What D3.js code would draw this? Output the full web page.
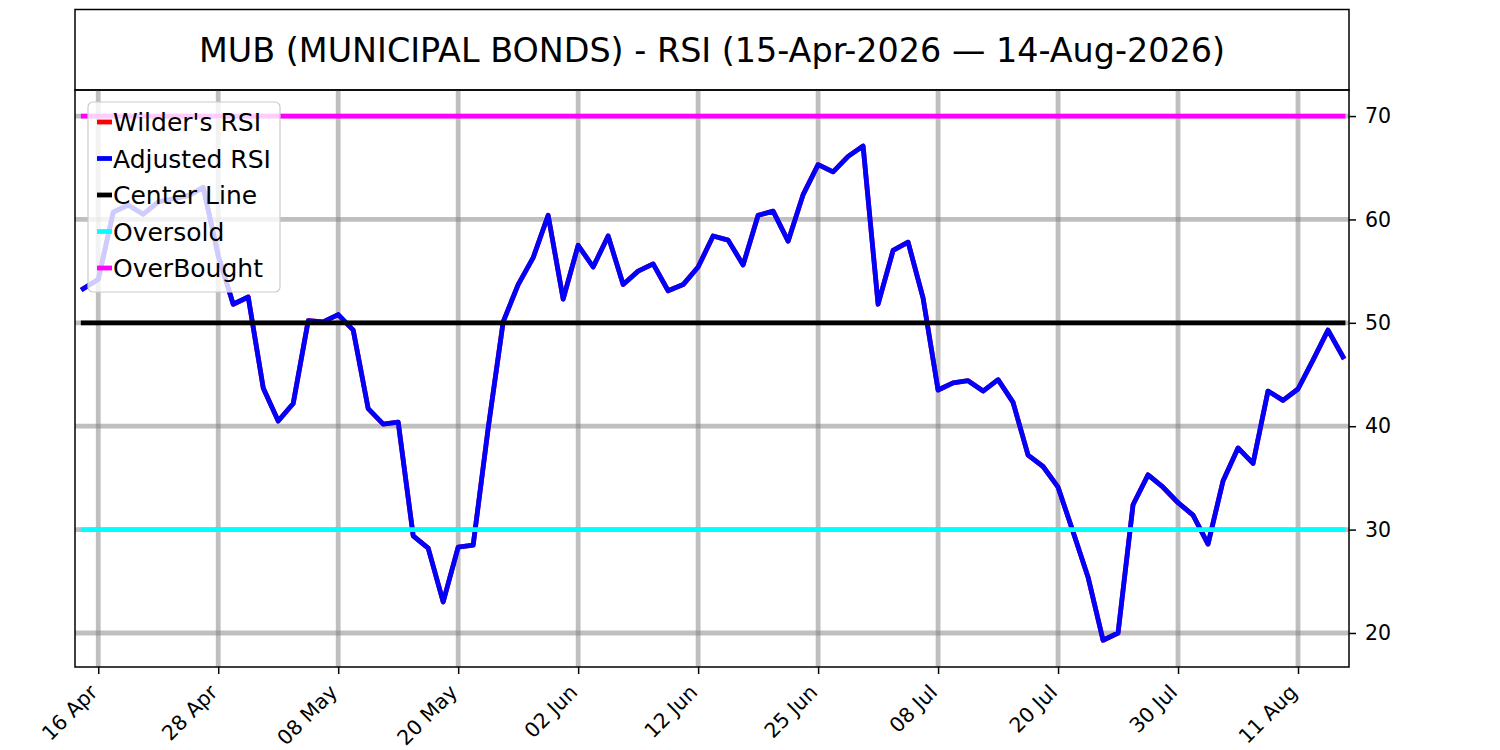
<!DOCTYPE html>
<html>
<head>
<meta charset="utf-8">
<script src="https://cdn.jsdelivr.net/npm/d3@7"></script>
<style>
  body { margin: 0; background: #fff; }
  svg { font-family: "DejaVu Sans", sans-serif; }
</style>
</head>
<body>
<div id="chart"></div>
<script>
// trading days shown on the chart (US market calendar)
const dates = [
  '2026-04-15','2026-04-16','2026-04-17','2026-04-20','2026-04-21','2026-04-22','2026-04-23','2026-04-24','2026-04-27','2026-04-28',
  '2026-04-29','2026-04-30','2026-05-01','2026-05-04','2026-05-05','2026-05-06','2026-05-07','2026-05-08','2026-05-11','2026-05-12',
  '2026-05-13','2026-05-14','2026-05-15','2026-05-18','2026-05-19','2026-05-20','2026-05-21','2026-05-22','2026-05-26','2026-05-27',
  '2026-05-28','2026-05-29','2026-06-01','2026-06-02','2026-06-03','2026-06-04','2026-06-05','2026-06-08','2026-06-09','2026-06-10',
  '2026-06-11','2026-06-12','2026-06-15','2026-06-16','2026-06-17','2026-06-18','2026-06-22','2026-06-23','2026-06-24','2026-06-25',
  '2026-06-26','2026-06-29','2026-06-30','2026-07-01','2026-07-02','2026-07-06','2026-07-07','2026-07-08','2026-07-09','2026-07-10',
  '2026-07-13','2026-07-14','2026-07-15','2026-07-16','2026-07-17','2026-07-20','2026-07-21','2026-07-22','2026-07-23','2026-07-24',
  '2026-07-27','2026-07-28','2026-07-29','2026-07-30','2026-07-31','2026-08-03','2026-08-04','2026-08-05','2026-08-06','2026-08-07',
  '2026-08-10','2026-08-11','2026-08-12','2026-08-13','2026-08-14'
]

// RSI (Wilder's line sits under the adjusted one)
const rsiValues = [
  53.3, 54.2, 60.7, 61.4, 60.5, 61.7, 62.0, 62.3, 63.1, 56.5,
  51.8, 52.5, 43.7, 40.5, 42.2, 50.2, 50.1, 50.8, 49.3, 41.7,
  40.2, 40.4, 29.4, 28.2, 23.0, 28.3, 28.5, 39.8, 50.1, 53.7,
  56.3, 60.4, 52.3, 57.5, 55.4, 58.4, 53.7, 55.0, 55.7, 53.1,
  53.7, 55.4, 58.4, 58.0, 55.6, 60.4, 60.8, 57.9, 62.4, 65.3,
  64.6, 66.1, 67.1, 51.8, 57.0, 57.8, 52.4, 43.5, 44.2, 44.4,
  43.4, 44.5, 42.3, 37.2, 36.1, 34.1, 29.8, 25.4, 19.3, 20.0,
  32.4, 35.3, 34.1, 32.6, 31.4, 28.6, 34.7, 37.9, 36.4, 43.4,
  42.5, 43.6, 46.4, 49.3, 46.7
]

const series = [
  { name: "Wilder's RSI", color: '#ff0000', values: rsiValues },
  { name: 'Adjusted RSI', color: '#0000ff', values: rsiValues }
]

const levels = [
  { name: 'Center Line', color: '#000000', value: 50 },
  { name: 'Oversold', color: '#00ffff', value: 30 },
  { name: 'OverBought', color: '#ff00ff', value: 70 }
]

const xTickIndex = [1, 9, 17, 25, 33, 41, 49, 57, 65, 73, 81]
const yTicks = [20, 30, 40, 50, 60, 70]
const title = 'MUB (MUNICIPAL BONDS) - RSI (15-Apr-2026 \u2014 14-Aug-2026)'

let width = 1500, height = 750
let plotL = 75, plotR = 1349, plotT = 90, plotB = 667
let lw = 4.8

let parse = d3.timeParse('%Y-%m-%d')
let fmt = d3.timeFormat('%d %b')

let svg = d3.select('#chart').append('svg')
  .attr('width', width)
  .attr('height', height)

svg.append('rect').attr('width', width).attr('height', height).attr('fill', '#fff')

let x = d3.scaleLinear().domain([-0.55, 84.4]).range([plotL, plotR])
let y = d3.scaleLinear().domain([16.71, 72.52]).range([plotB, plotT])

// title box
svg.append('rect')
  .attr('x', plotL).attr('y', 9.5)
  .attr('width', plotR - plotL).attr('height', plotT - 9.5)
  .attr('fill', 'none').attr('stroke', '#000').attr('stroke-width', 1.5)

svg.append('text')
  .attr('x', (plotL + plotR) / 2)
  .attr('y', 50)
  .attr('text-anchor', 'middle')
  .attr('dominant-baseline', 'central')
  .style('font-size', '33.4px')
  .text(title)

// grid
let grid = svg.append('g')
grid.selectAll('.vgrid')
  .data(xTickIndex)
  .enter().append('line')
    .attr('x1', d => x(d)).attr('x2', d => x(d))
    .attr('y1', plotT).attr('y2', plotB)
    .attr('stroke', 'gray').attr('stroke-opacity', 0.5).attr('stroke-width', lw)
grid.selectAll('.hgrid')
  .data(yTicks)
  .enter().append('line')
    .attr('x1', plotL).attr('x2', plotR)
    .attr('y1', d => y(d)).attr('y2', d => y(d))
    .attr('stroke', 'gray').attr('stroke-opacity', 0.5).attr('stroke-width', lw)

// rsi lines
let line = d3.line()
  .x((d, i) => x(i))
  .y(d => y(d))

svg.selectAll('.rsi')
  .data(series)
  .enter().append('path')
    .attr('d', d => line(d.values))
    .attr('fill', 'none')
    .attr('stroke', d => d.color)
    .attr('stroke-width', lw)
    .attr('stroke-linejoin', 'round')
    .attr('stroke-linecap', 'square')

// level lines span the dates
svg.selectAll('.level')
  .data(levels)
  .enter().append('line')
    .attr('x1', x(0)).attr('x2', x(dates.length - 1))
    .attr('y1', d => y(d.value)).attr('y2', d => y(d.value))
    .attr('stroke', d => d.color)
    .attr('stroke-width', lw)
    .attr('stroke-linecap', 'square')

// frame
svg.append('rect')
  .attr('x', plotL).attr('y', plotT)
  .attr('width', plotR - plotL).attr('height', plotB - plotT)
  .attr('fill', 'none').attr('stroke', '#000').attr('stroke-width', 1.5)

// right axis
let yAxis = svg.append('g')
  .attr('transform', 'translate(' + plotR + ',0)')
  .call(d3.axisRight(y).tickValues(yTicks).tickSize(7).tickPadding(9))
yAxis.select('.domain').remove()
yAxis.selectAll('line').attr('stroke', '#000').attr('stroke-width', 1.5)
yAxis.selectAll('text').style('font-size', '20.5px').attr('fill', '#000')
  .style('font-family', '"DejaVu Sans", sans-serif')

// bottom axis, labels turned 45 degrees
let xAxis = svg.append('g')
  .attr('transform', 'translate(0,' + plotB + ')')
  .call(d3.axisBottom(x).tickValues(xTickIndex).tickSize(7)
    .tickFormat(i => fmt(parse(dates[i]))))
xAxis.select('.domain').remove()
xAxis.selectAll('line').attr('stroke', '#000').attr('stroke-width', 1.5)
xAxis.selectAll('text')
  .style('font-size', '20.5px').attr('fill', '#000')
  .style('font-family', '"DejaVu Sans", sans-serif')
  .attr('text-anchor', 'end')
  .attr('x', 0).attr('y', 0).attr('dy', 0)
  .attr('transform', 'translate(0,26.5) rotate(-45)')

// legend
let legendItems = series.concat(levels)
let legend = svg.append('g').attr('transform', 'translate(88,102)')
legend.append('rect')
  .attr('width', 192).attr('height', 190).attr('rx', 5)
  .attr('fill', '#fff').attr('fill-opacity', 0.8)
  .attr('stroke', '#cccccc').attr('stroke-width', 1.2)

let rows = legend.selectAll('.row')
  .data(legendItems)
  .enter().append('g')
    .attr('transform', (d, i) => 'translate(0,' + (20 + i * 36.5) + ')')
rows.append('line')
  .attr('x1', 9).attr('x2', 24)
  .attr('stroke', d => d.color).attr('stroke-width', lw)
rows.append('text')
  .attr('x', 25).attr('dy', '0.36em')
  .style('font-size', '25px')
  .text(d => d.name)
</script>
</body>
</html>
